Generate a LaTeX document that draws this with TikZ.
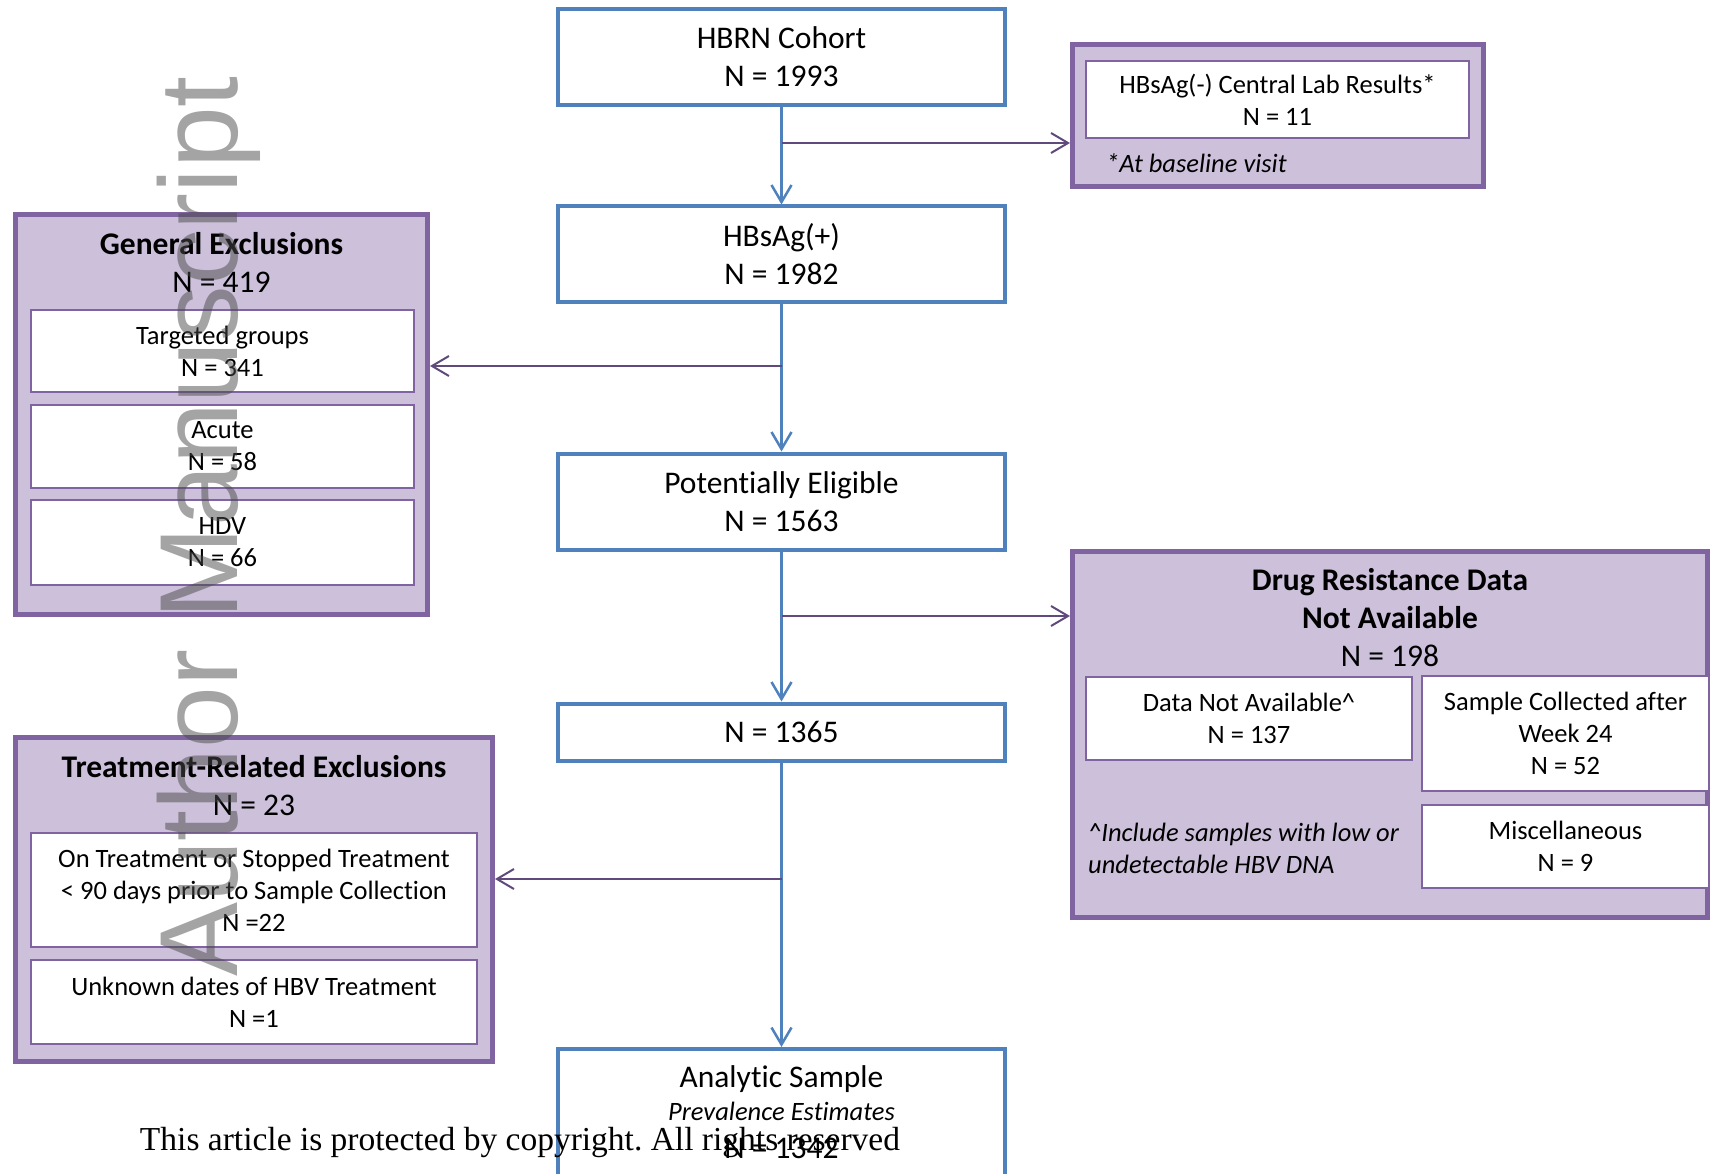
\documentclass[tikz,border=0pt]{standalone}
\usepackage{fontspec}
\setmainfont{Carlito}[Ligatures=NoCommon]
\newfontfamily\wmfont{Liberation Sans}
\newfontfamily\crfont{Liberation Serif}
\usetikzlibrary{arrows.meta}
\definecolor{blueC}{HTML}{4F81BD}
\definecolor{purpC}{HTML}{8064A2}
\definecolor{purpF}{HTML}{CCC0DA}
\definecolor{connP}{HTML}{604A7B}
\definecolor{wmC}{HTML}{4A4A4A}
\newcommand{\fbig}{\fontsize{31.5}{38}\selectfont}
\newcommand{\fsmall}{\fontsize{26.5}{32}\selectfont}
\frenchspacing
\begin{document}
\begin{tikzpicture}[x=1pt,y=-1pt,
  bluebox/.style={draw=blueC, line width=4pt, fill=white, minimum width=447pt, inner sep=0pt, align=center, font=\fbig},
  grpbox/.style={draw=purpC, fill=purpF, line width=5pt, inner sep=0pt},
  inbox/.style={draw=purpC, line width=1.5pt, fill=white, inner sep=0pt, align=center, font=\fsmall},
  txt/.style={inner sep=0pt, align=center},
  bluearr/.style={draw=blueC, line width=2.5pt, -{Straight Barb[length=17pt,width=20pt]}},
  purparr/.style={draw=connP, line width=2pt, -{Straight Barb[length=17pt,width=20pt]}},
]
\useasboundingbox (0,0) rectangle (1717,1174);
\fill[white] (0,0) rectangle (1717,1174);

% centre column
\node[bluebox, minimum height=96pt] (hbrn) at (781.5,57) {HBRN Cohort\\N = 1993};
\node[bluebox, minimum height=96pt] (hbpos) at (781.5,254.5) {HBsAg(+)\\N = 1982};
\node[bluebox, minimum height=96pt] (elig) at (781.5,501.5) {Potent\kern0pt ially Eligible\\N = 1563};
\node[bluebox, minimum height=57pt] (n1365) at (781.5,732) {N = 1365};
\node[bluebox, minimum height=170pt] (anal) at (781.5,1134) {};
\node[txt, font=\fbig, anchor=base] (analA) at (781.5,1087) {Analyt\kern0pt ic Sample};
\node[txt, font=\fsmall\itshape, anchor=base] (analB) at (781.5,1120.5) {Prevalence Est\kern0pt imates};
\node[txt, font=\fbig, anchor=base] (analC) at (781.5,1158) {N = 1342};

% HBsAg(-) box
\node[grpbox, minimum width=411pt, minimum height=142pt] (hbneg) at (1278,115.5) {};
\node[inbox, minimum width=383pt, minimum height=77pt] (hbnegI) at (1277.5,99.5) {HBsAg(-) Central Lab Results*\\N = 11};
\node[txt, font=\fsmall\itshape, anchor=base west] (hbnegF) at (1106,172.5) {*At baseline visit};

% General exclusions
\node[grpbox, minimum width=412pt, minimum height=400pt] (gen) at (221.5,414.5) {};
\node[txt, font=\fbig] (genT) at (221.5,262.5) {\textbf{General Exclusions}\\N = 419};
\node[inbox, minimum width=383pt, minimum height=82pt] (targ) at (222.5,351) {Targeted groups\\N = 341};
\node[inbox, minimum width=383pt, minimum height=83pt] (acute) at (222.5,446.5) {Acute\\N = 58};
\node[inbox, minimum width=383pt, minimum height=85pt] (hdv) at (222.5,542.5) {HDV\\N = 66};

% Treatment-related exclusions
\node[grpbox, minimum width=477pt, minimum height=324pt] (treat) at (254,899.5) {};
\node[txt, font=\fbig] (treatT) at (254,785.5) {\textbf{Treatment-Related Exclusions}\\N = 23};
\node[inbox, minimum width=446pt, minimum height=114pt] (ontr) at (254,890) {On Treatment or Stopped Treatment\\< 90 days prior to Sample Collect\kern0pt ion\\N =22};
\node[inbox, minimum width=446pt, minimum height=84pt] (unk) at (254,1002) {Unknown dates of HBV Treatment\\N =1};

% Drug resistance
\node[grpbox, minimum width=635pt, minimum height=366pt] (drug) at (1390,734.5) {};
\node[txt, font=\fbig] (drugT) at (1390,618) {\textbf{Drug Resistance Data}\\\textbf{Not Available}\\N = 198};
\node[inbox, minimum width=326pt, minimum height=83pt] (dna) at (1249,718.5) {Data Not Available\textasciicircum\\N = 137};
\node[inbox, minimum width=287pt, minimum height=115pt] (samp) at (1565.5,733.5) {Sample Collected after\\Week 24\\N = 52};
\node[inbox, minimum width=287pt, minimum height=83pt] (misc) at (1565.5,846.5) {Miscellaneous\\N = 9};
\node[txt, align=left, anchor=west, font=\fsmall\itshape] (drugF) at (1088,848) {\textasciicircum Include samples with low or\\undetectable HBV DNA};

% connectors
\draw[bluearr] (hbrn) -- (hbpos);
\draw[bluearr] (hbpos) -- (elig);
\draw[bluearr] (elig) -- (n1365);
\draw[bluearr] (n1365) -- (anal);
\coordinate (j1) at (781.5,143);
\coordinate (j2) at (781.5,366);
\coordinate (j3) at (781.5,616);
\coordinate (j4) at (781.5,879);
\draw[purparr] (j1) -- (j1 -| hbneg.west);
\draw[purparr] (j2) -- (j2 -| gen.east);
\draw[purparr] (j3) -- (j3 -| drug.west);
\draw[purparr] (j4) -- (j4 -| treat.east);

% watermark and notice
\node[rotate=90, anchor=base west, inner sep=0pt, font=\wmfont\fontsize{111}{111}\selectfont, text=wmC, opacity=0.5] (wm) at (237,977) {Author Manuscript};
\node[anchor=base, inner sep=0pt, font=\crfont\fontsize{33.5}{33.5}\selectfont] (copyr) at (520,1150) {This article is protected by copyright. All rights reserved};
\end{tikzpicture}
\end{document}
